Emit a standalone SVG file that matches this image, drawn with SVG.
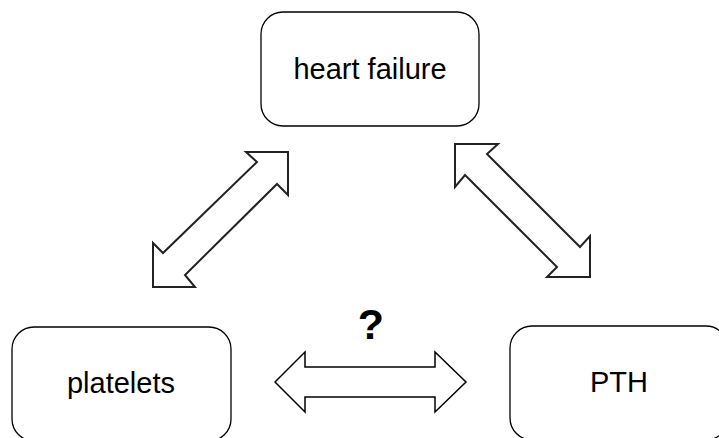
<svg xmlns="http://www.w3.org/2000/svg" width="719" height="438" viewBox="0 0 719 438">
  <style>
    .box { fill: #ffffff; stroke: #000000; stroke-width: 1.3; }
    .label { font-family: "Liberation Sans", Arial, sans-serif; font-size: 29px; fill: #000000; text-anchor: middle; }
    .q { font-family: "Liberation Sans", Arial, sans-serif; font-size: 43px; font-weight: bold; fill: #000000; text-anchor: middle; }
    .block { fill: #ffffff; stroke: #222222; stroke-width: 2; stroke-linejoin: miter; }
    .flat { fill: #ffffff; stroke: #000000; stroke-width: 1.5; stroke-linejoin: miter; }
  </style>

  <rect width="719" height="438" fill="#ffffff"/>

  <g id="heart-failure">
    <rect class="box" x="261" y="12" width="218" height="114" rx="22" ry="22"/>
    <text class="label" x="370" y="79">heart failure</text>
  </g>

  <g id="platelets">
    <rect class="box" x="12" y="327" width="219" height="114" rx="22" ry="22"/>
    <text class="label" x="121" y="393">platelets</text>
  </g>

  <g id="pth">
    <rect class="box" x="510" y="326" width="218" height="114" rx="22" ry="22"/>
    <text class="label" x="619" y="392">PTH</text>
  </g>

  <g id="connectors">
    <!-- platelets <-> heart failure -->
    <polygon class="block" points="288,152 288,195 277,184 185,275 195,287 153,287 153,243 163,253 257,162 246,152"/>
    <!-- heart failure <-> PTH -->
    <polygon class="block" points="455,144 498,144 487,154 580,247 590,236 590,277 547,277 557,267 465,175 455,187"/>
    <!-- platelets <-> PTH (unknown link) -->
    <polygon class="flat" points="275,382 305,352 305,367 435,367 435,352 466,382 435,412 435,397 305,397 305,412"/>
    <text class="q" x="371" y="339">?</text>
  </g>
</svg>
